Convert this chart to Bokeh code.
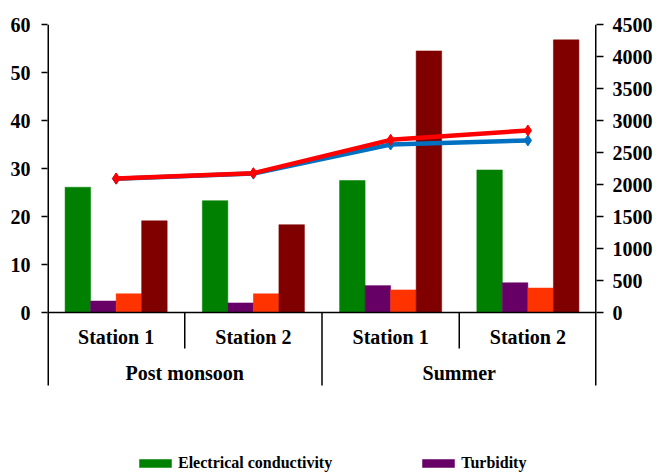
from bokeh.plotting import figure
from bokeh.models import Range1d, LinearAxis, FixedTicker, Legend, LegendItem
from bokeh.core.properties import value
from bokeh.embed import file_html
from bokeh.resources import INLINE

# ---- data ----
stations = ["Station 1", "Station 2", "Station 1", "Station 2"]
seasons = ["Post monsoon", "Summer"]
electrical_conductivity = [26.1, 23.3, 27.5, 29.7]
turbidity = [2.4, 2.0, 5.6, 6.2]
series_orange = [3.9, 3.9, 4.7, 5.1]
series_maroon = [19.1, 18.3, 54.5, 56.8]
line_blue = [2090, 2170, 2625, 2688]
line_red = [2094, 2177, 2698, 2844]
left_ticks = [0, 10, 20, 30, 40, 50, 60]
right_ticks = [0, 500, 1000, 1500, 2000, 2500, 3000, 3500, 4000, 4500]

FONT = "Liberation Serif"
AXIS_BOTTOM = -15.2          # where the category axis block ends
FRAME_BOTTOM = -33.54        # frame extends down to hold the legend
RIGHT_SCALE = 75.0

p = figure(width=656, height=473, x_range=Range1d(0, 4),
           y_range=Range1d(FRAME_BOTTOM, 60), output_backend="svg",
           toolbar_location=None, x_axis_location=None,
           min_border_left=47, min_border_right=60, min_border_top=24,
           min_border_bottom=0)
p.grid.visible = False
p.outline_line_color = None
p.background_fill_color = "white"

def style_axis(ax, ticks):
    ax.ticker = FixedTicker(ticks=ticks)
    ax.major_tick_out = 6
    ax.major_tick_in = 0
    ax.minor_tick_line_color = None
    ax.axis_line_color = None
    ax.major_tick_line_width = 1.5
    ax.major_tick_line_color = "black"
    ax.major_label_text_font = FONT
    ax.major_label_text_font_style = "bold"
    ax.major_label_text_font_size = "20px"
    ax.major_label_text_color = "black"

style_axis(p.yaxis[0], left_ticks)
p.yaxis[0].major_label_standoff = 11

p.extra_y_ranges = {"right": Range1d(FRAME_BOTTOM * RIGHT_SCALE, 60 * RIGHT_SCALE)}
rax = LinearAxis(y_range_name="right")
style_axis(rax, right_ticks)
rax.major_tick_out = 7
rax.major_label_standoff = 9
p.add_layout(rax, "right")

n = len(stations)
centers = [i + 0.5 for i in range(n)]
bw = 0.186
series = [(electrical_conductivity, "#008000"), (turbidity, "#660066"),
          (series_orange, "#FF3300"), (series_maroon, "#800000")]
renderers = []
for k, (vals, col) in enumerate(series):
    xs = [c + (k - 1.5) * bw for c in centers]
    r = p.vbar(x=xs, top=vals, bottom=0, width=bw, fill_color=col,
               line_color=col, line_width=0.5)
    renderers.append(r)

# vertical axis lines (end at the bottom of the category block)
p.segment(x0=[0, 4], y0=[AXIS_BOTTOM, AXIS_BOTTOM], x1=[0, 4], y1=[60, 60],
          line_color="black", line_width=3)
# category axis drawn manually
p.segment(x0=[0], y0=[0], x1=[4], y1=[0], line_color="black", line_width=1.5)
p.segment(x0=[1, 3], y0=[0, 0], x1=[1, 3], y1=[-7.5, -7.5], line_color="black", line_width=1.5)
p.segment(x0=[2], y0=[0], x1=[2], y1=[AXIS_BOTTOM], line_color="black", line_width=1.5)
p.text(x=centers, y=[-5.0] * n, text=stations, text_font=value(FONT),
       text_font_style="bold", text_font_size="20px", text_align="center",
       text_baseline="middle", text_color="black")
p.text(x=[1, 3], y=[-12.5, -12.5], text=seasons, text_font=value(FONT),
       text_font_style="bold", text_font_size="20px", text_align="center",
       text_baseline="middle", text_color="black")

# lines on right axis
p.line(x=centers, y=line_blue, y_range_name="right", line_color="#0070C0", line_width=4.5)
p.scatter(x=centers, y=line_blue, y_range_name="right", marker="diamond", size=11,
          fill_color="#0070C0", line_color="#0070C0")
p.line(x=centers, y=line_red, y_range_name="right", line_color="#FF0000", line_width=4.5)
p.scatter(x=centers, y=line_red, y_range_name="right", marker="diamond", size=11,
          fill_color="#FF0000", line_color="#FF0000")

legend = Legend(items=[LegendItem(label="Electrical conductivity", renderers=[renderers[0]]),
                       LegendItem(label="Turbidity", renderers=[renderers[1]])],
                location=(88, 1), orientation="horizontal", spacing=86,
                glyph_width=40, glyph_height=10, label_height=16,
                label_standoff=3, padding=0, margin=0,
                border_line_color=None, background_fill_alpha=0,
                label_text_font=FONT, label_text_font_style="bold",
                label_text_font_size="16px", label_text_color="black")
p.add_layout(legend)

open("out.html", "w").write(file_html(p, INLINE))
